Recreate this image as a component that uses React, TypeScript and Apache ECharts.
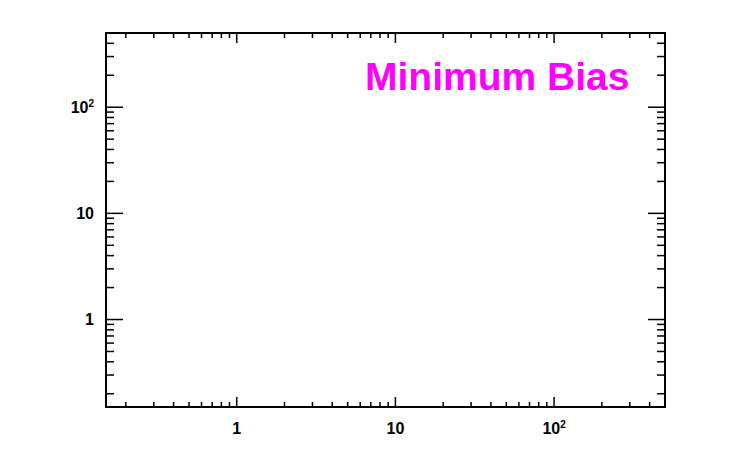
import React, { useEffect, useRef } from "react";
import * as echarts from "echarts";

const X_MIN = 0.15;
const X_MAX = 500;
const Y_MIN = 0.15;
const Y_MAX = 500;

const xMajorTicks = [1, 10, 100];
const xMinorTicks = [0.2, 0.3, 0.4, 0.5, 0.6, 0.7, 0.8, 0.9, 2, 3, 4, 5, 6, 7, 8, 9, 20, 30, 40, 50, 60, 70, 80, 90, 200, 300, 400];
const yMajorTicks = [1, 10, 100];
const yMinorTicks = [0.2, 0.3, 0.4, 0.5, 0.6, 0.7, 0.8, 0.9, 2, 3, 4, 5, 6, 7, 8, 9, 20, 30, 40, 50, 60, 70, 80, 90, 200, 300, 400];

const titleText = "Minimum Bias";

const FONT = "Liberation Sans";

function powLabel(v: number): string {
  const e = Math.round(Math.log10(v));
  if (Math.abs(Math.log10(v) - e) > 1e-6) return "";
  if (e === 0) return "{a|1}";
  if (e === 1) return "{a|10}";
  return "{a|10}{s|" + e + "}";
}

function makeRich(size: number) {
  return {
    a: { fontSize: size, fontWeight: "bold", fill: "#000", color: "#000", fontFamily: FONT, lineHeight: 18 },
    s: { fontSize: 10, fontWeight: "bold", fill: "#000", color: "#000", fontFamily: FONT, lineHeight: 18, padding: [0, 0, 8, 0] },
  };
}

export default function App() {
  const ref = useRef<HTMLDivElement>(null);
  useEffect(() => {
    if (!ref.current) return;
    const chart = echarts.init(ref.current, undefined, { renderer: "svg" });
    const tickData: number[][] = [];
    xMajorTicks.forEach((v) => tickData.push([v, 1, 0, 1]));
    xMinorTicks.forEach((v) => tickData.push([v, 1, 0, 0]));
    yMajorTicks.forEach((v) => tickData.push([1, v, 1, 1]));
    yMinorTicks.forEach((v) => tickData.push([1, v, 1, 0]));

    const axisLine = { show: true, onZero: false, lineStyle: { color: "#000", width: 2 } };
    const baseX = {
      type: "log" as const,
      logBase: 10,
      min: X_MIN,
      max: X_MAX,
      axisLine,
      axisTick: { show: false },
      splitLine: { show: false },
      axisLabel: { show: false },
    };
    const baseY = {
      type: "log" as const,
      logBase: 10,
      min: Y_MIN,
      max: Y_MAX,
      axisLine,
      axisTick: { show: false },
      splitLine: { show: false },
    };

    chart.setOption({
      animation: false,
      backgroundColor: "#fff",
      grid: { left: 106, right: 66, top: 33, bottom: 61, containLabel: false },
      xAxis: [
        { ...baseX, position: "bottom" },
        { ...baseX, position: "top" },
      ],
      yAxis: [
        {
          ...baseY,
          position: "left",
          axisLabel: {
            show: true,
            fontSize: 16,
            fontWeight: "bold",
            fontFamily: FONT,
            color: "#000",
            margin: 12,
            formatter: (v: number) => powLabel(v),
            rich: makeRich(16),
          },
        },
        { ...baseY, position: "right", axisLabel: { show: false } },
      ],
      graphic: [
        {
          type: "text",
          x: 365,
          y: 76,
          style: {
            text: titleText,
            fill: "#ff00ff",
            fontSize: 39,
            fontWeight: "bold",
            fontFamily: FONT,
            verticalAlign: "middle",
            align: "left",
          },
        },
      ],
      series: [
        {
          type: "custom",
          coordinateSystem: "cartesian2d",
          xAxisIndex: 0,
          yAxisIndex: 0,
          silent: true,
          clip: false,
          data: tickData,
          renderItem: (params: any, api: any) => {
            const cs = params.coordSys;
            const isY = api.value(2) === 1;
            const major = api.value(3) === 1;
            const style = { stroke: "#000", lineWidth: 1.5 };
            if (!isY) {
              const len = major ? 10 : 5;
              const v = api.value(0);
              const px = api.coord([v, 1])[0];
              const yb = cs.y + cs.height;
              const children: any[] = [
                { type: "line", shape: { x1: px, y1: yb, x2: px, y2: yb - len }, style },
                { type: "line", shape: { x1: px, y1: cs.y, x2: px, y2: cs.y + len }, style },
              ];
              if (major) {
                children.push({
                  type: "text",
                  x: px,
                  y: yb + 12,
                  style: {
                    text: powLabel(v),
                    rich: makeRich(16),
                    fontSize: 16,
                    fontWeight: "bold",
                    fontFamily: FONT,
                    fill: "#000",
                    align: "center",
                    verticalAlign: "top",
                  },
                });
              }
              return { type: "group", children };
            }
            const len = major ? 17 : 8;
            const py = api.coord([1, api.value(1)])[1];
            const xr = cs.x + cs.width;
            return {
              type: "group",
              children: [
                { type: "line", shape: { x1: cs.x, y1: py, x2: cs.x + len, y2: py }, style },
                { type: "line", shape: { x1: xr, y1: py, x2: xr - len, y2: py }, style },
              ],
            };
          },
        },
      ],
    });
    return () => chart.dispose();
  }, []);
  return (
    <div
      ref={ref}
      style={{ position: "fixed", left: 0, top: 0, width: 731, height: 468, background: "#fff" }}
    />
  );
}
